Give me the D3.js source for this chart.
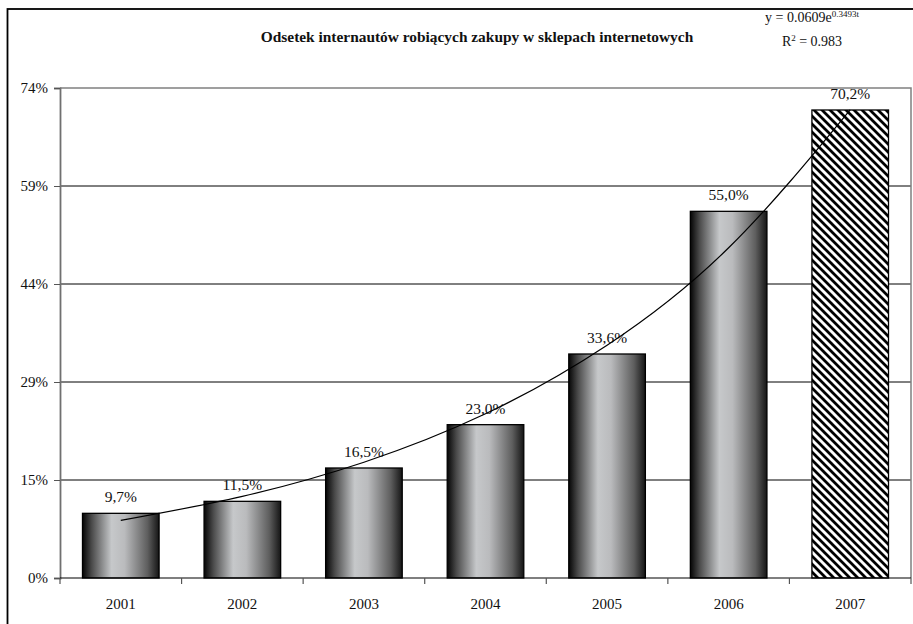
<!DOCTYPE html>
<html><head><meta charset="utf-8">
<script src="https://cdn.jsdelivr.net/npm/d3@7"></script>
<style>body{margin:0;background:#fff}svg{display:block}text{font-family:"Liberation Serif","Times New Roman",serif}</style>
</head><body>
<script>
const years = ["2001","2002","2003","2004","2005","2006","2007"];
const values = [0.097,0.115,0.165,0.230,0.336,0.550,0.702];
const valueLabels = ["9,7%","11,5%","16,5%","23,0%","33,6%","55,0%","70,2%"];
const trendValues = [0.0864,0.1225,0.1737,0.2463,0.3492,0.4953,0.7023];
const yTicks = [0,0.147,0.294,0.441,0.588,0.735];
const yTickLabels = ["0%","15%","29%","44%","59%","74%"];
const title = "Odsetek internautów robiących zakupy w sklepach internetowych";

const W=913,H=624;
const svg=d3.select("body").append("svg").attr("width",W).attr("height",H);
const defs=svg.append("defs");
const g=defs.append("linearGradient").attr("id","bargrad").attr("x1","0").attr("x2","1").attr("y1","0").attr("y2","0");
[[0,"#050505"],[0.12,"#4a4a4a"],[0.38,"#c6c8ca"],[0.55,"#babbbd"],[0.85,"#5e5e5e"],[1,"#151515"]].forEach(s=>g.append("stop").attr("offset",s[0]).attr("stop-color",s[1]));
const pat=defs.append("pattern").attr("id","hatch").attr("patternUnits","userSpaceOnUse").attr("width",8).attr("height",8);
pat.append("rect").attr("width",8).attr("height",8).attr("fill","#fff");
pat.append("path").attr("d","M0,0L8,8M-4,4L4,12M4,-4L12,4M-8,0L0,8M8,0L16,8").attr("stroke","#000").attr("stroke-width",2.8);

// outer frame
svg.append("rect").attr("x",7.5).attr("y",9).attr("width",930).attr("height",640).attr("fill","none").attr("stroke","#000").attr("stroke-width",1.8);

const L=60,R=911,T=88,B=578;
const x=d3.scaleBand().domain(years).range([L,R]).paddingInner(0.37).paddingOuter(0.185);
const xb=d3.scaleBand().domain(years).range([L,R]);
const y=d3.scaleLinear().domain([0,0.735]).range([B,T]);

// gridlines
svg.append("g").selectAll("line").data(yTicks.slice(1,-1)).join("line")
 .attr("x1",L).attr("x2",R).attr("y1",d=>y(d)).attr("y2",d=>y(d)).attr("stroke","#000").attr("stroke-width",1);
// plot border top/right
svg.append("path").attr("d",`M${L},${y(yTicks[5])}H${R}V${B}`).attr("fill","none").attr("stroke","#808080").attr("stroke-width",1.5);

// bars
svg.append("g").selectAll("rect").data(years).join("rect")
 .attr("x",d=>x(d)).attr("width",x.bandwidth())
 .attr("y",(d,i)=>y(values[i])).attr("height",(d,i)=>B-y(values[i]))
 .attr("fill",(d,i)=>i===6?"url(#hatch)":"url(#bargrad)")
 .attr("stroke","#000").attr("stroke-width",1.3);

// value labels
svg.append("g").selectAll("text").data(years).join("text")
 .attr("x",d=>x(d)+x.bandwidth()/2).attr("y",(d,i)=>y(values[i])-11)
 .attr("text-anchor","middle").attr("font-size",15.5).attr("fill","#111")
 .text((d,i)=>valueLabels[i]);

// trend line
const line=d3.line().x((d,i)=>xb(years[i])+xb.bandwidth()/2).y(d=>y(d)).curve(d3.curveNatural);
svg.append("path").attr("d",line(trendValues)).attr("fill","none").attr("stroke","#000").attr("stroke-width",1.2);

// y axis
const ya=svg.append("g").attr("transform",`translate(${L},0)`)
 .call(d3.axisLeft(y).tickValues(yTicks).tickFormat((d,i)=>yTickLabels[i]).tickSize(6).tickPadding(6));
ya.attr("font-family",null);
ya.select(".domain").attr("stroke","#707070").attr("stroke-width",1.8);
ya.selectAll(".tick line").attr("stroke","#555");
ya.selectAll("text").attr("font-size",15).attr("fill","#111");

// x axis
svg.append("line").attr("x1",L).attr("x2",R).attr("y1",B).attr("y2",B).attr("stroke","#000").attr("stroke-width",1.2);
svg.append("g").selectAll("line").data(years.concat(["end"])).join("line")
 .attr("x1",(d,i)=>L+i*xb.bandwidth()).attr("x2",(d,i)=>L+i*xb.bandwidth())
 .attr("y1",B).attr("y2",B+6).attr("stroke","#555").attr("stroke-width",1.2);
svg.append("g").selectAll("text").data(years).join("text")
 .attr("x",d=>xb(d)+xb.bandwidth()/2).attr("y",609).attr("text-anchor","middle")
 .attr("font-size",15).attr("fill","#111").text(d=>d);

// title
svg.append("text").attr("x",477).attr("y",42).attr("text-anchor","middle").attr("font-size",15.4).attr("font-weight","bold").attr("fill","#111").text(title);

// equation
const eq=svg.append("text").attr("x",812).attr("y",22).attr("text-anchor","middle").attr("font-size",14).attr("fill","#111");
eq.append("tspan").text("y = 0.0609e");
eq.append("tspan").attr("dy",-5).attr("font-size",9).text("0.3493t");
const r2=svg.append("text").attr("x",812).attr("y",46).attr("text-anchor","middle").attr("font-size",14).attr("fill","#111");
r2.append("tspan").text("R");
r2.append("tspan").attr("dy",-5).attr("font-size",9).text("2");
r2.append("tspan").attr("dy",5).text(" = 0.983");
</script>
</body></html>
